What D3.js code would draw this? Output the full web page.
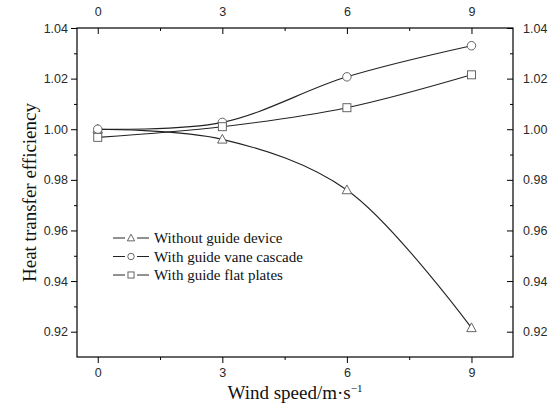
<!DOCTYPE html>
<html><head><meta charset="utf-8">
<script src="https://cdn.jsdelivr.net/npm/d3@7"></script>
<style>body{margin:0;background:#fff}svg{display:block}</style>
</head><body>
<svg id="c" width="552" height="410"></svg>
<script>
const windSpeed = [0, 3, 6, 9];
const withoutGuide = [1.000, 0.9960, 0.9760, 0.9215];
const vaneCascade = [1.000, 1.0027, 1.0207, 1.0330];
const flatPlates = [0.9968, 1.0010, 1.0085, 1.0215];
const seriesNames = ["Without guide device", "With guide vane cascade", "With guide flat plates"];
const yTicks = [0.92, 0.94, 0.96, 0.98, 1.00, 1.02, 1.04];
const xTicks = [0, 3, 6, 9];

const svg = d3.select("#c");
const L = 77, R = 513, T = 28, B = 357;
const x = d3.scaleLinear().domain([-0.5, 10]).range([L, R]);
const y = d3.scaleLinear().domain([0.91, 1.04]).range([B, T]);
const sans = "'Liberation Sans', Arial, sans-serif";
const serif = "'Liberation Serif', 'Times New Roman', serif";

const g = svg.append("g");
const minorX = [1.5, 4.5, 7.5];
const minorY = [0.93, 0.95, 0.97, 0.99, 1.01, 1.03];

function styleAxis(sel){
  sel.select(".domain").remove();
  sel.selectAll("line").attr("stroke", "#000").attr("stroke-width", 1);
  sel.selectAll("text").attr("font-family", sans).attr("font-size", 12.5).attr("fill", "#2a2a2a");
}
// bottom: outward
g.append("g").attr("transform", `translate(0,${B})`)
  .call(d3.axisBottom(x).tickValues(xTicks).tickSize(6).tickPadding(5).tickFormat(d3.format("d"))).call(styleAxis);
g.append("g").attr("transform", `translate(0,${B})`)
  .call(d3.axisBottom(x).tickValues(minorX).tickSize(3).tickFormat("")).call(styleAxis);
// top: inward
g.append("g").attr("transform", `translate(0,${T})`)
  .call(d3.axisTop(x).tickValues(xTicks).tickSizeInner(-6).tickSizeOuter(0).tickPadding(12).tickFormat(d3.format("d"))).call(styleAxis);
g.append("g").attr("transform", `translate(0,${T})`)
  .call(d3.axisTop(x).tickValues(minorX).tickSizeInner(-3).tickSizeOuter(0).tickFormat("")).call(styleAxis);
// left: outward
g.append("g").attr("transform", `translate(${L},0)`)
  .call(d3.axisLeft(y).tickValues(yTicks).tickSize(6).tickPadding(3).tickFormat(d3.format(".2f"))).call(styleAxis);
g.append("g").attr("transform", `translate(${L},0)`)
  .call(d3.axisLeft(y).tickValues(minorY).tickSize(3).tickFormat("")).call(styleAxis);
// right: inward
g.append("g").attr("transform", `translate(${R},0)`)
  .call(d3.axisRight(y).tickValues(yTicks).tickSizeInner(-6).tickSizeOuter(0).tickPadding(10).tickFormat(d3.format(".2f"))).call(styleAxis);
g.append("g").attr("transform", `translate(${R},0)`)
  .call(d3.axisRight(y).tickValues(minorY).tickSizeInner(-3).tickSizeOuter(0).tickFormat("")).call(styleAxis);

g.append("rect").attr("x", L).attr("y", T).attr("width", R - L).attr("height", B - T)
  .attr("fill", "none").attr("stroke", "#000").attr("stroke-width", 1.2);

const line = d3.line().x(d => x(d[0])).y(d => y(d[1])).curve(d3.curveCatmullRom.alpha(0.5));
const data = [withoutGuide, vaneCascade, flatPlates];
const shapes = ["tri", "circ", "sq"];

function marker(sel, shape, cx, cy, s){
  if (shape === "tri") {
    sel.append("path").attr("d", `M${cx},${cy - s}L${cx + s * 0.95},${cy + s * 0.75}L${cx - s * 0.95},${cy + s * 0.75}Z`)
      .attr("fill", "#fff").attr("stroke", "#555").attr("stroke-width", 0.9);
  } else if (shape === "circ") {
    sel.append("circle").attr("cx", cx).attr("cy", cy).attr("r", s * 0.85)
      .attr("fill", "#fff").attr("stroke", "#555").attr("stroke-width", 0.9);
  } else {
    sel.append("rect").attr("x", cx - s * 0.8).attr("y", cy - s * 0.8).attr("width", s * 1.6).attr("height", s * 1.6)
      .attr("fill", "#fff").attr("stroke", "#555").attr("stroke-width", 0.9);
  }
}

data.forEach((vals) => {
  g.append("path").datum(windSpeed.map((w, i) => [w, vals[i]])).attr("d", line)
    .attr("fill", "none").attr("stroke", "#222").attr("stroke-width", 1.1);
});
data.forEach((vals, k) => {
  windSpeed.forEach((w, i) => marker(g, shapes[k], x(w), y(vals[i]), 5));
});

// legend
const legY0 = 238, legDy = 18.5;
seriesNames.forEach((name, k) => {
  const ly = legY0 + k * legDy;
  g.append("line").attr("x1", 113).attr("x2", 125).attr("y1", ly).attr("y2", ly).attr("stroke", "#222").attr("stroke-width", 1);
  g.append("line").attr("x1", 137).attr("x2", 149).attr("y1", ly).attr("y2", ly).attr("stroke", "#222").attr("stroke-width", 1);
  marker(g, shapes[k], 131, ly, 3.8);
  g.append("text").attr("x", 154).attr("y", ly + 5).attr("font-family", serif).attr("font-size", 15).attr("fill", "#111").text(name);
});

// axis titles
g.append("text").attr("transform", `translate(36,${(T + B) / 2}) rotate(-90)`).attr("text-anchor", "middle")
  .attr("font-family", serif).attr("font-size", 19).attr("fill", "#111").text("Heat transfer efficiency");
const xt = g.append("text").attr("x", 295).attr("y", 399).attr("text-anchor", "middle")
  .attr("font-family", serif).attr("font-size", 19).attr("fill", "#111");
xt.append("tspan").text("Wind speed/m\u00B7s");
xt.append("tspan").attr("dy", -7).attr("font-size", 11).text("\u22121");
</script>
</body></html>
